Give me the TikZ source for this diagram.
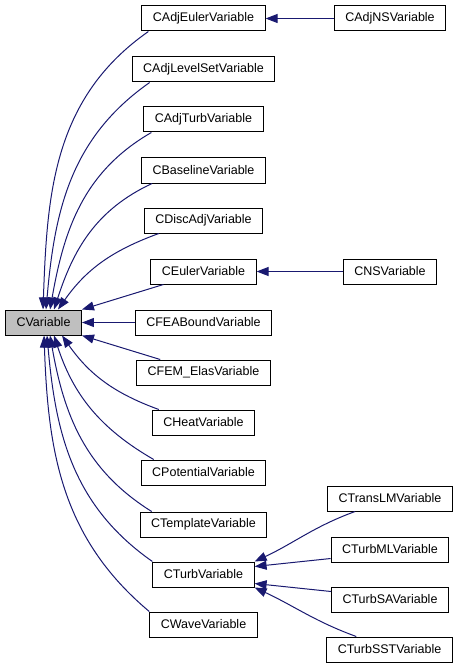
\documentclass[tikz,border=0pt]{standalone}
\usepackage{fontspec}
\setmainfont{Liberation Sans}
\usepackage{tikz}
\usetikzlibrary{arrows.meta}
\definecolor{edgeblue}{RGB}{25,25,112}
\definecolor{basegray}{RGB}{191,191,191}
\tikzset{every node/.append style={font=\fontsize{12.5}{15}\selectfont}}
\tikzset{cls/.style={draw=black, line width=1pt, minimum height=25pt, inner xsep=11pt, inner ysep=0pt, fill=white}}
\tikzset{inh/.style={->, draw=edgeblue, line width=1pt}}

\begin{document}
\begin{tikzpicture}[x=1pt, y=1pt, >={Triangle[length=12pt,width=9pt]}]
    \useasboundingbox (0,0) rectangle (461,-671);
    % classes
    \node[cls, fill=basegray] (base) at (43.5,-322.5) {CVariable};
    \node[cls] (adjeuler) at (203.5,-18.5) {CAdjEulerVariable};
    \node[cls] (adjns) at (390,-18.5) {CAdjNSVariable};
    \node[cls] (adjlevelset) at (203.5,-69.5) {CAdjLevelSetVariable};
    \node[cls] (adjturb) at (203.5,-119.5) {CAdjTurbVariable};
    \node[cls] (baseline) at (203.5,-170.5) {CBaselineVariable};
    \node[cls] (discadj) at (203.5,-220.5) {CDiscAdjVariable};
    \node[cls] (euler) at (203.5,-271.5) {CEulerVariable};
    \node[cls] (ns) at (390,-271.5) {CNSVariable};
    \node[cls] (feabound) at (203.5,-322.5) {CFEABoundVariable};
    \node[cls] (femelas) at (203.5,-372.5) {CFEM\_ElasVariable};
    \node[cls] (heat) at (203.5,-422.5) {CHeatVariable};
    \node[cls] (potential) at (203.5,-472.5) {CPotentialVariable};
    \node[cls] (template) at (203.5,-524.5) {CTemplateVariable};
    \node[cls] (turb) at (203.5,-574.5) {CTurbVariable};
    \node[cls] (wave) at (203.5,-624.5) {CWaveVariable};
    \node[cls] (translm) at (390,-498.5) {CTransLMVariable};
    \node[cls] (turbml) at (390,-549.5) {CTurbMLVariable};
    \node[cls] (turbsa) at (390,-599.5) {CTurbSAVariable};
    \node[cls] (turbsst) at (389.5,-649.5) {CTurbSSTVariable};
    % inheritance, upper half
    \draw[inh] ([xshift=7pt]adjeuler.south west) to[out=215, in=88] ([xshift=38pt]base.north west);
    \draw[inh] ([xshift=18pt]adjlevelset.south west) to[out=215, in=85] ([xshift=41pt]base.north west);
    \draw[inh] ([xshift=8pt]adjturb.south west) to[out=210, in=80] ([xshift=45pt]base.north west);
    \draw[inh] ([xshift=11pt]baseline.south west) to[out=205, in=72] ([xshift=49pt]base.north west);
    \draw[inh] ([xshift=15pt]discadj.south west) to[out=200, in=55] ([xshift=53pt]base.north west);
    \draw[inh] ([xshift=13pt]euler.south west) -- (base.north east);
    \draw[inh] (feabound.west) -- (base.east);
    % inheritance, lower half
    \draw[inh] ([xshift=24pt]femelas.north west) -- (base.south east);
    \draw[inh] ([xshift=7pt]heat.north west) to[out=160, in=-55] ([xshift=57pt]base.south west);
    \draw[inh] ([xshift=13pt]potential.north west) to[out=150, in=-72] ([xshift=49pt]base.south west);
    \draw[inh] ([xshift=12pt]template.north west) to[out=148, in=-80] ([xshift=45pt]base.south west);
    \draw[inh] (turb.north west) to[out=145, in=-85] ([xshift=42pt]base.south west);
    \draw[inh] (wave.north west) to[out=140, in=-88] ([xshift=39pt]base.south west);
    % second level
    \draw[inh] (adjns.west) -- (adjeuler.east);
    \draw[inh] (ns.west) -- (euler.east);
    \draw[inh] ([xshift=28pt]translm.south west) to[out=200, in=25] (turb.north east);
    \draw[inh] ([yshift=4pt]turbml.south west) -- ([yshift=-5pt]turb.north east);
    \draw[inh] ([yshift=-5pt]turbsa.north west) -- ([yshift=4pt]turb.south east);
    \draw[inh] ([xshift=30pt]turbsst.north west) to[out=160, in=-25] (turb.south east);
\end{tikzpicture}
\end{document}
